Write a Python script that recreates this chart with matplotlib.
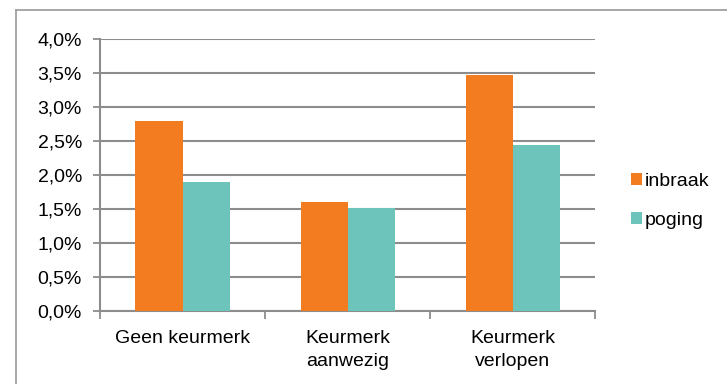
import matplotlib.pyplot as plt
import numpy as np
from matplotlib.lines import Line2D

plt.rcParams['font.family'] = ['Liberation Sans', 'DejaVu Sans']

categorieen = ["Geen keurmerk", "Keurmerk\naanwezig", "Keurmerk\nverlopen"]
inbraak = [2.79, 1.60, 3.46]
poging = [1.89, 1.51, 2.44]
yticks = [0.0, 0.5, 1.0, 1.5, 2.0, 2.5, 3.0, 3.5, 4.0]

oranje = "#F47C20"
turkoois = "#6CC4BA"
grijs = "#8C8C8C"
fs = 14

fig = plt.figure(figsize=(7.27, 3.84), dpi=100)
ax = fig.add_axes([100 / 727, 1 - 310.7 / 384, 495.3 / 727, 272 / 384])

x = np.arange(len(categorieen))
breedte = 0.285
ax.bar(x - breedte / 2, inbraak, breedte, color=oranje, label="inbraak", zorder=3)
ax.bar(x + breedte / 2, poging, breedte, color=turkoois, label="poging", zorder=3)

ax.set_xlim(-0.5, 2.5)
ax.set_ylim(0, 4.0)
ax.set_yticks(yticks)
ax.set_yticklabels([f"{v:.1f}%".replace(".", ",") for v in yticks], fontsize=fs)
ax.set_xticks(x)
ax.set_xticklabels(categorieen, fontsize=fs, linespacing=1.45, va='top')
ax.set_xticks([-0.5, 0.5, 1.5, 2.5], minor=True)
ax.tick_params(axis='x', which='major', length=0, pad=14)
ax.tick_params(axis='x', which='minor', length=6, width=1.3, color=grijs, direction='out')
ax.tick_params(axis='y', length=5, width=1.3, color=grijs, pad=8)

ax.grid(axis='y', color=grijs, linewidth=1.5, zorder=0)
for s in ['top', 'right']:
    ax.spines[s].set_visible(False)
for s in ['left', 'bottom']:
    ax.spines[s].set_color(grijs)
    ax.spines[s].set_linewidth(1.5)

ax.legend(loc='center left', bbox_to_anchor=(631 / 727, 1 - 201 / 384),
          bbox_transform=fig.transFigure, frameon=False, fontsize=fs,
          handlelength=0.55, handleheight=0.55, handletextpad=0.15, labelspacing=1.15,
          borderpad=0, borderaxespad=0)

# rand om de grafiek
fig.add_artist(Line2D([15.5 / 727, 15.5 / 727], [0, 1 - 10 / 384], color="#A0A0A0", linewidth=1.3))
fig.add_artist(Line2D([15.5 / 727, 1], [1 - 10 / 384, 1 - 10 / 384], color="#A0A0A0", linewidth=1.3))

plt.savefig('out.png', dpi=100)
